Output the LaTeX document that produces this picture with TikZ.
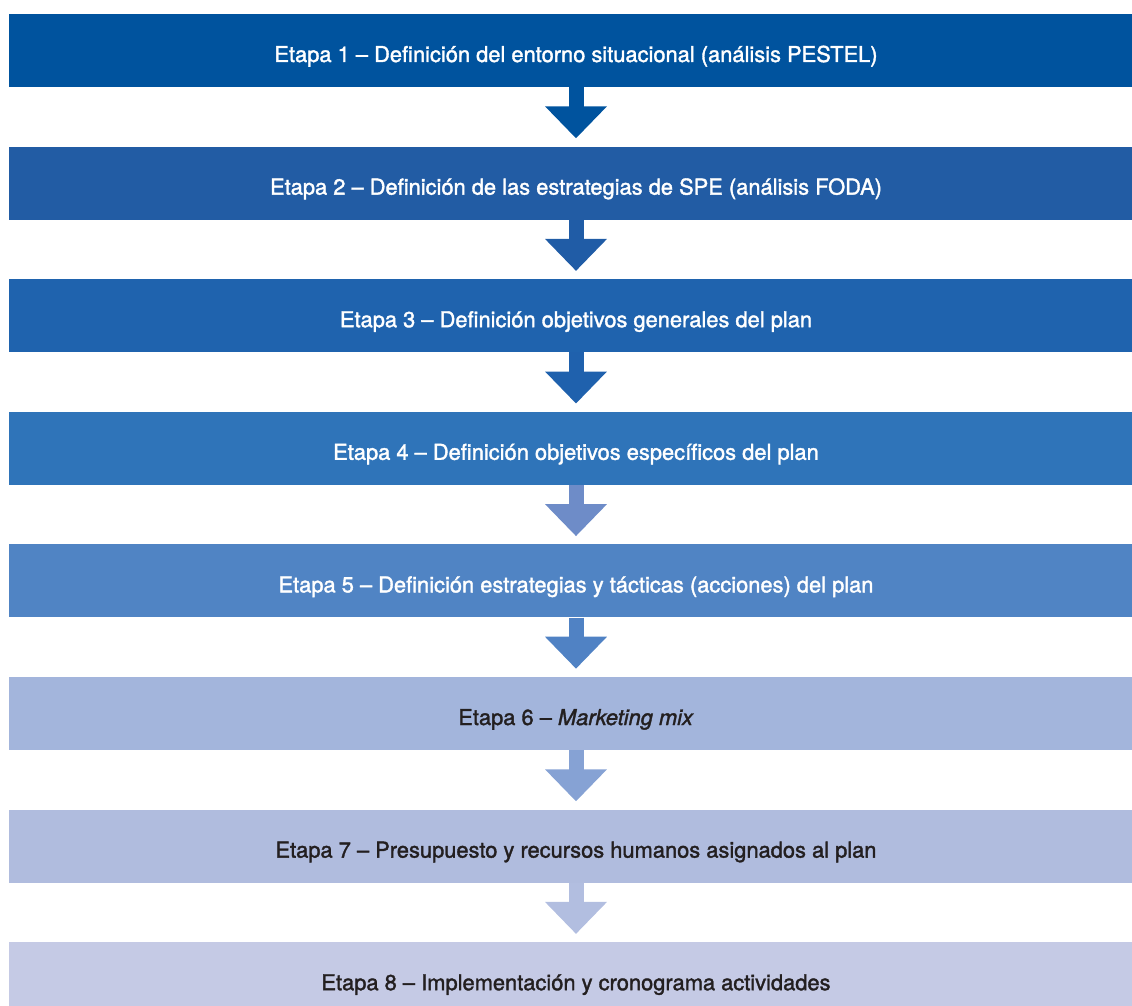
\documentclass[tikz,border=0pt]{standalone}
\usepackage{fontspec}
\setmainfont{TeX Gyre Heros}[FakeBold=1.6]
\usetikzlibrary{arrows.meta}

% stage fills
\definecolor{fillA}{HTML}{00539E}
\definecolor{fillB}{HTML}{225CA4}
\definecolor{fillC}{HTML}{1F63AE}
\definecolor{fillD}{HTML}{2F74B9}
\definecolor{fillE}{HTML}{5084C4}
\definecolor{fillF}{HTML}{A3B5DC}
\definecolor{fillG}{HTML}{B0BCDE}
\definecolor{fillH}{HTML}{C5CAE5}
% arrow fills
\definecolor{arrA}{HTML}{00539E}
\definecolor{arrB}{HTML}{205CA6}
\definecolor{arrC}{HTML}{1F61AD}
\definecolor{arrD}{HTML}{6E8CC8}
\definecolor{arrE}{HTML}{5082C4}
\definecolor{arrF}{HTML}{86A2D4}
\definecolor{arrG}{HTML}{B2BEE0}
\definecolor{inkdark}{HTML}{231F20}

\tikzset{
  stage/.style={rectangle, inner sep=0pt, minimum width=850.5pt, minimum height=54.75pt,
    text height=17.25pt, text depth=0pt, font=\fontsize{16.4}{19}\selectfont},
  lightstage/.style={stage, text=white},
  darkstage/.style={stage, text=inkdark},
  flow/.style={line width=11.25pt, -{Triangle[width=45pt,length=24pt]}},
}

\begin{document}
\begin{tikzpicture}[x=0.75pt, y=-0.75pt]
  \useasboundingbox (0,0) rectangle (1132,1006);
  \clip (0,0) rectangle (1132,1006);

  \node[lightstage, fill=fillA] (s1) at (576, 50.5)  {Etapa 1 – Definición del entorno situacional (análisis PESTEL)};
  \node[lightstage, fill=fillB] (s2) at (576, 183.1) {Etapa 2 – Definición de las estrategias de SPE (análisis FODA)};
  \node[lightstage, fill=fillC] (s3) at (576, 315.7) {Etapa 3 – Definición objetivos generales del plan};
  \node[lightstage, fill=fillD] (s4) at (576, 448.3) {Etapa 4 – Definición objetivos específicos del plan};
  \node[lightstage, fill=fillE] (s5) at (576, 580.9) {Etapa 5 – Definición estrategias y tácticas (acciones) del plan};
  \node[darkstage,  fill=fillF] (s6) at (576, 713.5) {Etapa 6 – \textit{Marketing mix}};
  \node[darkstage,  fill=fillG] (s7) at (576, 846.1) {Etapa 7 – Presupuesto y recursos humanos asignados al plan};
  \node[darkstage,  fill=fillH] (s8) at (576, 978.7) {Etapa 8 – Implementación y cronograma actividades};

  \draw[flow, arrA] (s1.south) -- ([yshift=6pt]s2.north);
  \draw[flow, arrB] (s2.south) -- ([yshift=6pt]s3.north);
  \draw[flow, arrC] (s3.south) -- ([yshift=6pt]s4.north);
  \draw[flow, arrD] (s4.south) -- ([yshift=6pt]s5.north);
  \draw[flow, arrE] (s5.south) -- ([yshift=6pt]s6.north);
  \draw[flow, arrF] (s6.south) -- ([yshift=6pt]s7.north);
  \draw[flow, arrG] (s7.south) -- ([yshift=6pt]s8.north);
\end{tikzpicture}
\end{document}
